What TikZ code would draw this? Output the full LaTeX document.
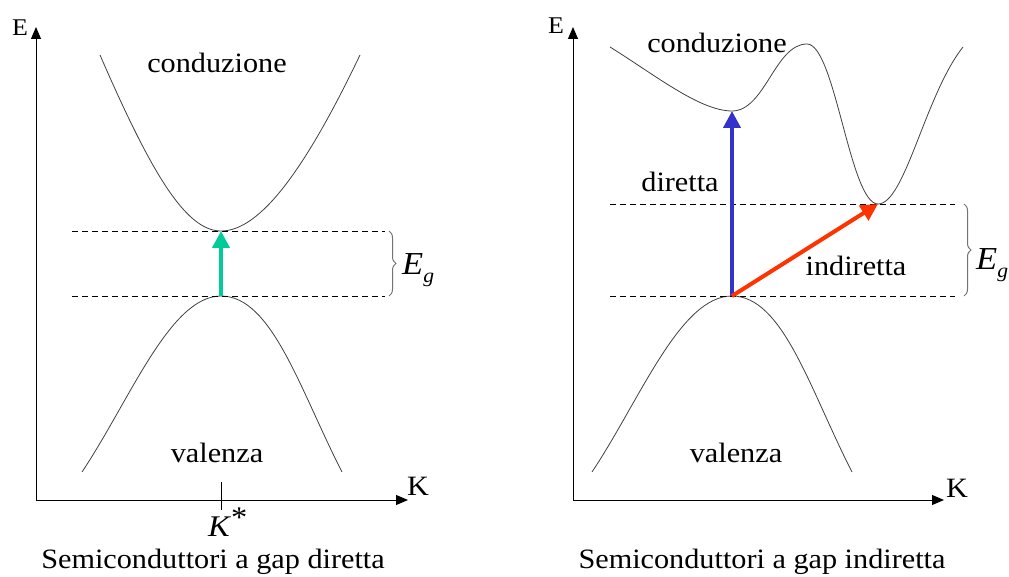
\documentclass[tikz,border=0pt]{standalone}
\usepackage{fontspec}
\setmainfont{Liberation Serif}[FakeStretch=1.08]
\usetikzlibrary{arrows.meta,decorations.pathreplacing}
\definecolor{gapgreen}{RGB}{0,204,153}
\definecolor{gapblue}{RGB}{51,51,204}
\definecolor{gapred}{RGB}{255,51,0}
\begin{document}
\begin{tikzpicture}[x=1pt,y=-1pt,
  lbl/.style={font=\fontsize{28}{30}\selectfont, inner sep=0pt, anchor=base},
  axlbl/.style={font=\fontsize{24}{26}\selectfont, inner sep=0pt, anchor=base},
  axis/.style={line width=1pt, -{Triangle[length=12pt,width=10pt]}},
  band/.style={line width=0.8pt, black!75},
  gapline/.style={dash pattern=on 6pt off 4pt, line width=0.8pt},
  trans/.style={line width=4pt, -{Triangle[length=17pt,width=17pt]}},
  gbrace/.style={decorate, decoration={brace,amplitude=7pt}, black!55, line width=1pt},
]
\useasboundingbox (0,0) rectangle (1009,577);

% ---------------- left panel ----------------
\coordinate (lO) at (36,500);
\coordinate (lEtop) at (36,27);
\coordinate (lKend) at (408,500);
\draw[axis] (lO) -- (lEtop);
\draw[axis] (lO) -- (lKend);
\node[axlbl] (lE) at (20,36) {E};
\node[lbl] (lK) at (418,495) {K};

\coordinate (lCmin) at (221,231);
\coordinate (lVmax) at (221,296);
\draw[band] (100,55) .. controls (150,170) and (185,231) .. (lCmin)
            .. controls (260,231) and (305,170) .. (360,55);
\draw[band] (82,472) .. controls (130,400) and (170,296) .. (lVmax)
            .. controls (272,296) and (300,390) .. (342,472);

\coordinate (lD1a) at (72,231);  \coordinate (lD1b) at (385,231);
\coordinate (lD2a) at (72,296);  \coordinate (lD2b) at (385,296);
\draw[gapline] (lD1a) -- (lD1b);
\draw[gapline] (lD2a) -- (lD2b);
\coordinate (lB1) at (389,231); \coordinate (lB2) at (389,296);
\draw[gbrace] (lB1) -- (lB2);
\node[inner sep=0pt, anchor=base west, font=\fontsize{32}{34}\selectfont] (lEg) at (402,275)
  {\textit{E}\raisebox{-8pt}{\fontsize{20}{20}\selectfont\textit{g}}};

\draw[trans, gapgreen] (lVmax) -- (lCmin);

\coordinate (lT1) at (221,482); \coordinate (lT2) at (221,510);
\draw[line width=1pt] (lT1) -- (lT2);
\node[inner sep=0pt, anchor=base west, font=\fontsize{30}{32}\selectfont] (lKs) at (208,536)
  {\textit{K}\raisebox{9pt}{\fontsize{30}{30}\selectfont *}};

\node[lbl] (lcond) at (217,73) {conduzione};
\node[lbl] (lval) at (217,462) {valenza};
\node[lbl] (lcap) at (213,568) {Semiconduttori a gap diretta};

% ---------------- right panel ----------------
\coordinate (rO) at (573,500);
\coordinate (rEtop) at (573,27);
\coordinate (rKend) at (944,500);
\draw[axis] (rO) -- (rEtop);
\draw[axis] (rO) -- (rKend);
\node[axlbl] (rE) at (556,34) {E};
\node[lbl] (rK) at (957,497) {K};

\coordinate (rCmin1) at (732,111);
\coordinate (rCmax) at (807,44);
\coordinate (rCmin2) at (878,204);
\coordinate (rVmax) at (732,296);
\draw[band] (610,47) .. controls (655,75) and (700,111) .. (rCmin1)
            .. controls (765,111) and (775,44) .. (rCmax)
            .. controls (835,44) and (850,204) .. (rCmin2)
            .. controls (905,204) and (925,95) .. (963,47);
\draw[band] (592,472) .. controls (640,400) and (680,296) .. (rVmax)
            .. controls (783,296) and (810,390) .. (852,472);

\coordinate (rD1a) at (610,204);  \coordinate (rD1b) at (955,204);
\coordinate (rD2a) at (610,296);  \coordinate (rD2b) at (955,296);
\draw[gapline] (rD1a) -- (rD1b);
\draw[gapline] (rD2a) -- (rD2b);
\coordinate (rB1) at (964,204); \coordinate (rB2) at (964,296);
\draw[gbrace] (rB1) -- (rB2);
\node[inner sep=0pt, anchor=base west, font=\fontsize{32}{34}\selectfont] (rEg) at (976,270)
  {\textit{E}\raisebox{-8pt}{\fontsize{20}{20}\selectfont\textit{g}}};

\draw[trans, gapblue] (rVmax) -- (rCmin1);
\draw[trans, gapred] (rVmax) -- (rCmin2);

\node[lbl] (rcond) at (717,53) {conduzione};
\node[lbl] (rdir) at (680,192) {diretta};
\node[lbl] (rind) at (856,276) {indiretta};
\node[lbl] (rval) at (736,462) {valenza};
\node[lbl] (rcap) at (762,568) {Semiconduttori a gap indiretta};
\end{tikzpicture}
\end{document}
